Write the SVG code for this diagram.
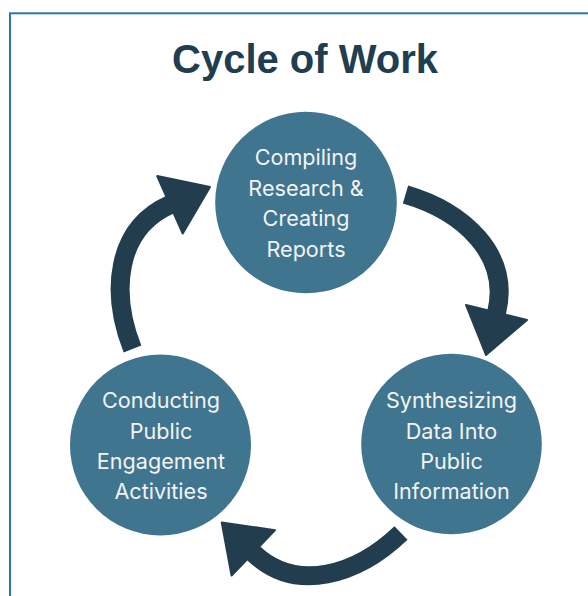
<svg xmlns="http://www.w3.org/2000/svg" width="588" height="596" viewBox="0 0 588 596">
  <style>
    .node { fill: #40758f; }
    .label { font-family: Inter, Lato, sans-serif; font-size: 21.6px; fill: #f3f3f3; text-anchor: middle; font-variant-ligatures: none; }
    .title { font-family: "Liberation Sans", Arial, sans-serif; font-weight: bold; font-size: 40px; fill: #213e50; text-anchor: middle; }
    .shaft { fill: none; stroke: #223e4e; stroke-width: 19; stroke-linecap: butt; }
    .head { fill: #223e4e; stroke: #223e4e; stroke-width: 2; stroke-linejoin: round; }
  </style>
  <defs>
    <g id="arrow">
      <path class="shaft" d="M405.5,194.5 C463,211.3 511,254.3 496.5,313"/>
      <polygon class="head" points="466,305 527,320 486,355"/>
    </g>
  </defs>
  <rect x="0" y="0" width="588" height="596" fill="#ffffff"/>
  <rect x="10" y="13.3" width="620" height="620" fill="none" stroke="#2e75b6" stroke-width="2"/>
  <text class="title" x="305" y="73.3">Cycle of Work</text>

  <g id="connectors">
    <use href="#arrow"/>
    <use href="#arrow" transform="translate(401,533) rotate(120) translate(-405.5,-194.5)"/>
    <use href="#arrow" transform="translate(132.5,349) rotate(-127.8) translate(-405.5,-194.5)"/>
  </g>

  <g id="node-compiling">
    <circle class="node" cx="306" cy="202.5" r="90.8"/>
    <text class="label" x="306" y="165">Compiling</text>
    <text class="label" x="306" y="195.5">Research &amp;</text>
    <text class="label" x="306" y="226">Creating</text>
    <text class="label" x="306" y="257">Reports</text>
  </g>
  <g id="node-synthesizing">
    <circle class="node" cx="451.5" cy="444" r="90.3"/>
    <text class="label" x="451.5" y="408">Synthesizing</text>
    <text class="label" x="451.5" y="438.5">Data Into</text>
    <text class="label" x="451.5" y="469">Public</text>
    <text class="label" x="451.5" y="499">Information</text>
  </g>
  <g id="node-conducting">
    <circle class="node" cx="160.5" cy="445" r="90.5"/>
    <text class="label" x="161" y="408">Conducting</text>
    <text class="label" x="161" y="438.5">Public</text>
    <text class="label" x="161" y="469">Engagement</text>
    <text class="label" x="161" y="499">Activities</text>
  </g>
</svg>
